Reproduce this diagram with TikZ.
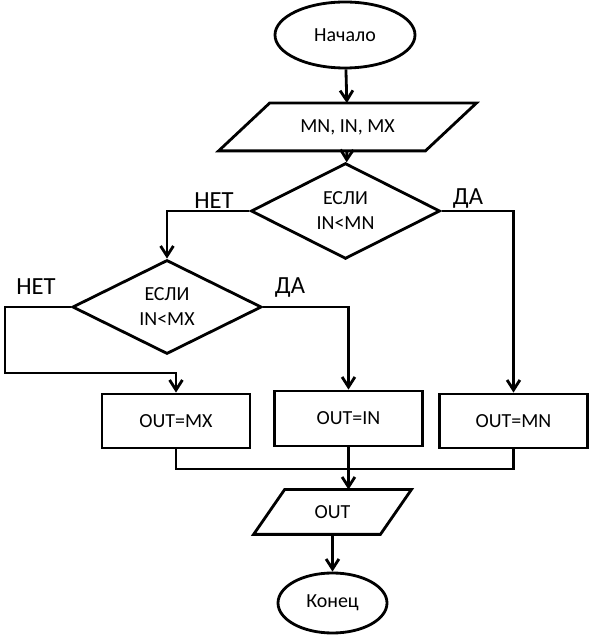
\documentclass[tikz,border=0pt]{standalone}
\usepackage{fontspec}
\setmainfont{Carlito}
\usepackage{tikz}
\usetikzlibrary{shapes.geometric, arrows.meta}

\begin{document}
\begin{tikzpicture}[line width=2pt, >={Straight Barb[length=0.25cm, width=0.32cm]},
  txt/.style={font=\fontsize{14.2}{17.8}\selectfont, align=center},
  lbl/.style={font=\fontsize{17.5}{19}\selectfont},
  term/.style={txt, draw, ellipse, inner sep=0pt},
  io/.style={txt, rectangle, inner sep=0pt},
  cond/.style={txt, draw, diamond, inner sep=0pt, minimum width=4.73cm, minimum height=2.35cm},
  box/.style={txt, draw, rectangle, inner sep=0pt, minimum width=3.7cm, minimum height=1.35cm}]
  \useasboundingbox (0,0) rectangle (14.725,15.875); % 画像の大きさ

  \node[term, minimum width=3.5cm, minimum height=1.65cm] (start) at (8.625,15.0) {Начало}; % 開始
  \node[io, minimum width=6.375cm, minimum height=1.125cm] (in) at (8.6875,12.7) {MN, IN, MX}; % 入力
  \draw ([xshift=1.275cm]in.north west) -- (in.north east) -- ([xshift=-1.275cm]in.south east) -- (in.south west) -- cycle; % 平行四辺形
  \node[cond] (d1) at (8.6375,10.6) {ЕСЛИ\\IN<MN}; % 条件1
  \node[cond] (d2) at (4.175,8.2) {ЕСЛИ\\IN<MX}; % 条件2
  \node[box] (mx) at (4.4,5.35) {OUT=MX};
  \node[box, minimum height=1.375cm] (ib) at (8.7125,5.4125) {OUT=IN};
  \node[box] (mn) at (12.8375,5.35) {OUT=MN};
  \node[io, minimum width=3.875cm, minimum height=1.05cm] (out) at (8.3125,3.075) {OUT}; % 出力
  \draw ([xshift=0.775cm]out.north west) -- (out.north east) -- ([xshift=-0.775cm]out.south east) -- (out.south west) -- cycle; % 平行四辺形
  \node[term, minimum width=2.725cm, minimum height=1.5cm] (end) at (8.3125,0.8) {Конец}; % 終了

  \node[lbl] (no1) at (5.35,10.85) {НЕТ};
  \node[lbl] (yes1) at (11.7,10.9) {ДА};
  \node[lbl] (no2) at (0.9,8.7) {НЕТ};
  \node[lbl] (yes2) at (7.25,8.675) {ДА};

  \coordinate (c1) at (0.125,6.55); % 左の曲がり角
  \coordinate (mrg) at (8.7125,4.15); % 合流点

  \draw[->] (start) -- (in);
  \draw[->] (in) -- (d1);
  \draw[->] (d1.west) -| (d2.north);
  \draw[->] (d1.east) -| (mn.north);
  \draw[->] (d2.east) -| (ib.north);
  \draw[->] (d2.west) -| (c1) -| (mx.north);
  \draw (mx.south) |- (mrg) -| (mn.south); % 合流線
  \draw[->] (ib.south) -- (ib.south |- out.north);
  \draw[->] (out) -- (end);
\end{tikzpicture}
\end{document}
